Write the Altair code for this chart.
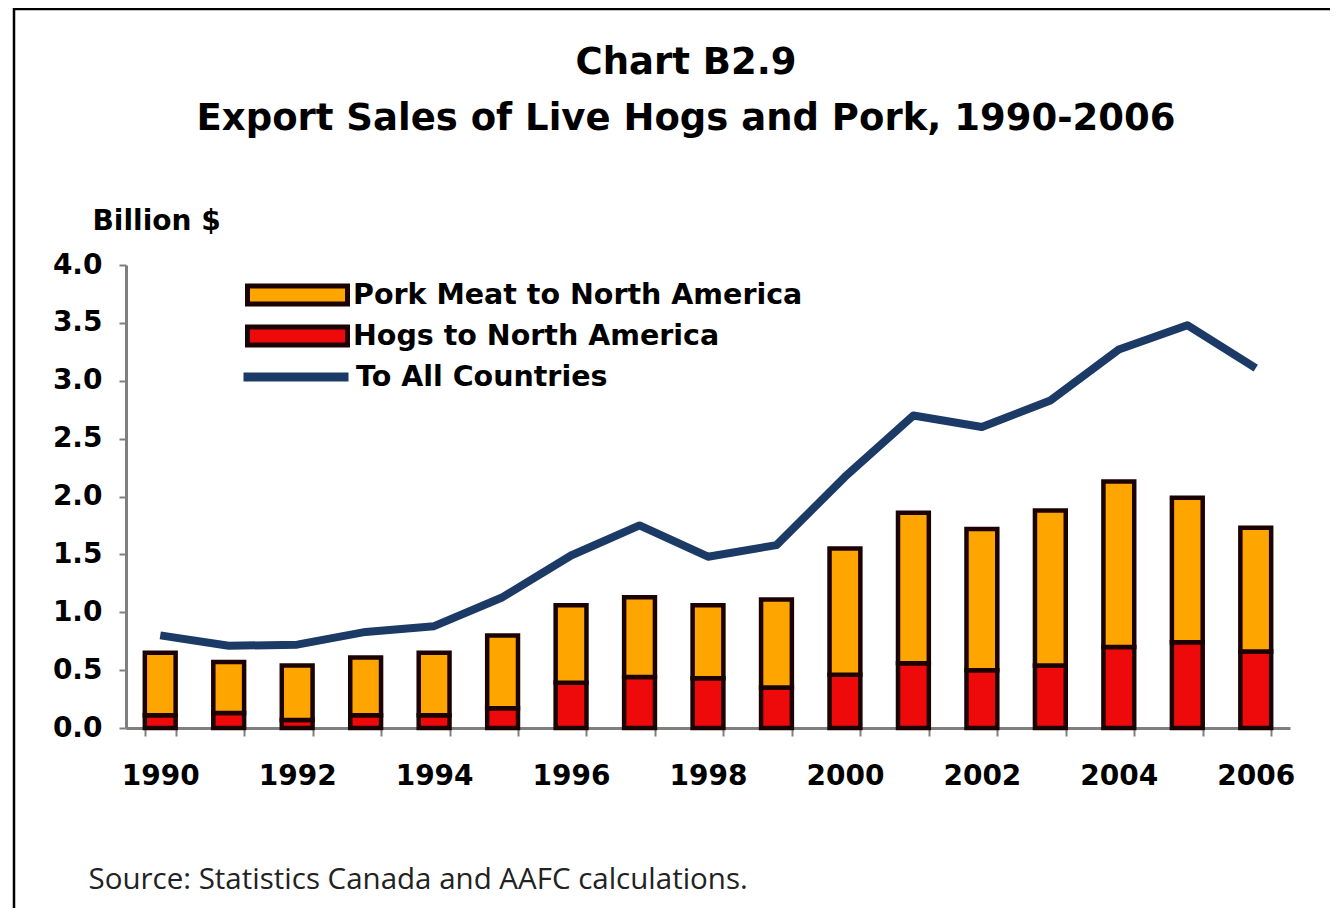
import altair as alt
import pandas as pd

years = list(range(1990, 2007))
hogs = [0.11, 0.13, 0.07, 0.11, 0.11, 0.17, 0.39, 0.44, 0.43, 0.35, 0.46, 0.56, 0.50, 0.54, 0.70, 0.74, 0.66]
pork = [0.54, 0.44, 0.47, 0.50, 0.54, 0.63, 0.67, 0.69, 0.63, 0.76, 1.09, 1.30, 1.22, 1.34, 1.43, 1.25, 1.07]
all_countries = [0.80, 0.71, 0.72, 0.83, 0.88, 1.13, 1.49, 1.75, 1.48, 1.58, 2.17, 2.70, 2.60, 2.83, 3.27, 3.48, 3.11]

series_pork = "Pork Meat to North America"
series_hogs = "Hogs to North America"
series_all = "To All Countries"
y_ticks = [0.0, 0.5, 1.0, 1.5, 2.0, 2.5, 3.0, 3.5, 4.0]

title_lines = ["Chart B2.9", "Export Sales of Live Hogs and Pork, 1990-2006"]
y_title = "Billion $"
source_text = "Source: Statistics Canada and AAFC calculations."

bars_df = pd.DataFrame(
    [{"Year": y, "Series": series_hogs, "Value": v, "Order": 0} for y, v in zip(years, hogs)]
    + [{"Year": y, "Series": series_pork, "Value": v, "Order": 1} for y, v in zip(years, pork)]
)
line_df = pd.DataFrame({"Year": years, "Value": all_countries, "Series": [series_all] * len(years)})
frame_df = pd.DataFrame({"k": [0]})

W, H = 1164, 463
PAD_L, PAD_T = 118, 257

ORANGE = "#FFA500"
RED = "#EE0A0A"
NAVY = "#1B3A66"
GRAY = "#7F7F7F"
FONT = "DejaVu Sans"

x_scale = alt.Scale(paddingInner=0.55, paddingOuter=0.275)
y_scale = alt.Scale(domain=[0, 4])

x_axis = alt.Axis(
    labelAngle=0, labelFont=FONT, labelFontSize=28, labelFontWeight="bold", labelColor="black",
    labelPadding=26, labelOverlap=False,
    labelExpr="datum.value % 2 == 0 ? datum.label : ''",
    tickBand="extent", tickSize=8, tickWidth=2, tickColor=GRAY,
    domainColor=GRAY, domainWidth=3,
    title=source_text, titleFont="Open Sans", titleFontWeight="normal", titleFontSize=29.5,
    titleColor="#222222", titleAlign="left", titleBaseline="alphabetic", titleAnchor="start",
    titleX=-38, titleY=160,
)
y_axis = alt.Axis(
    values=y_ticks, format=".1f", grid=False,
    labelFont=FONT, labelFontSize=28, labelFontWeight="bold", labelColor="black", labelPadding=17,
    tickSize=7, tickWidth=2, tickColor=GRAY, domainColor=GRAY, domainWidth=3,
    title=y_title, titleAngle=0, titleAlign="left", titleBaseline="alphabetic",
    titleX=-34, titleY=-36, titleFont=FONT, titleFontSize=28, titleFontWeight="bold", titleColor="black",
)

bars = alt.Chart(bars_df).mark_bar(stroke="#1C0303", strokeWidth=4.5).encode(
    x=alt.X("Year:O", scale=x_scale, axis=x_axis),
    y=alt.Y("Value:Q", stack="zero", scale=y_scale, axis=y_axis),
    fill=alt.Fill(
        "Series:N",
        scale=alt.Scale(domain=[series_pork, series_hogs], range=[ORANGE, RED]),
        legend=alt.Legend(
            orient="none", legendX=119, legendY=12, title=None, padding=0,
            symbolType="M-1,-0.18L1,-0.18L1,0.18L-1,0.18Z", symbolSize=10000,
            symbolStrokeColor="#1C0303", symbolStrokeWidth=5, symbolOffset=0,
            clipHeight=36, rowPadding=5, labelOffset=3, labelLimit=0,
            labelFont=FONT, labelFontSize=28.5, labelFontWeight="bold", labelColor="black",
        ),
    ),
    order=alt.Order("Order:Q"),
)

line = alt.Chart(line_df).mark_line(strokeWidth=8, strokeJoin="round").encode(
    x=alt.X("Year:O", scale=x_scale, axis=x_axis),
    y=alt.Y("Value:Q", scale=y_scale, axis=y_axis),
    stroke=alt.Stroke(
        "Series:N",
        scale=alt.Scale(domain=[series_all], range=[NAVY]),
        legend=alt.Legend(
            orient="none", legendX=113, legendY=94, title=None, padding=0,
            symbolType="M-1,0L1,0", symbolSize=11025, symbolStrokeWidth=9, symbolOffset=0,
            clipHeight=36, labelOffset=3, labelLimit=0,
            labelFont=FONT, labelFontSize=28.5, labelFontWeight="bold", labelColor="black",
        ),
    ),
)

frame_top = alt.Chart(frame_df).mark_rule(color="black", strokeWidth=2.5).encode(
    x=alt.value(-113), x2=alt.value(1260), y=alt.value(-256)
)
frame_left = alt.Chart(frame_df).mark_rule(color="black", strokeWidth=2.5).encode(
    x=alt.value(-112), y=alt.value(-257), y2=alt.value(700)
)

chart = alt.layer(bars, line, frame_top, frame_left).resolve_scale(
    fill="independent", stroke="independent"
).properties(
    width=W, height=H,
    autosize=alt.AutoSizeParams(type="none"),
    padding={"left": PAD_L, "top": PAD_T, "right": 40, "bottom": 180},
    view=alt.ViewBackground(strokeWidth=0, strokeOpacity=0),
    title=alt.TitleParams(
        text=title_lines, font=FONT, fontSize=37, fontWeight="bold", color="black",
        lineHeight=56, anchor="middle", frame="group", dx=-22, offset=-131,
    ),
).configure_view(strokeWidth=0, strokeOpacity=0).configure(font=FONT, background="white")

chart.save("out.html", embed_options={"renderer": "svg", "actions": False})
